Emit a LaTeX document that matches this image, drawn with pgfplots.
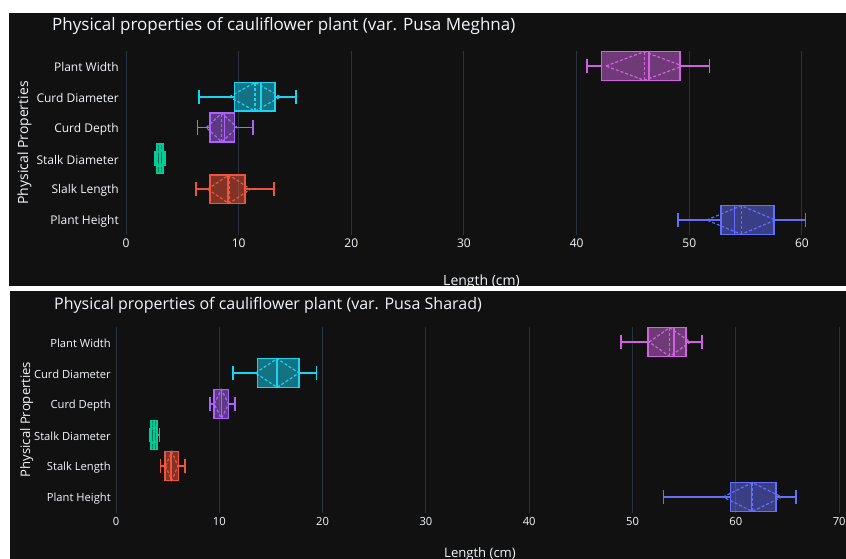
\documentclass[border=0pt]{standalone}
\usepackage{fontspec}
\setmainfont{Open Sans}
\usepackage{pgfplots}
\pgfplotsset{compat=1.18}
\usepgfplotslibrary{statistics}
\definecolor{bg}{HTML}{111111}
\definecolor{gridc}{HTML}{283442}
\definecolor{txt}{HTML}{F2F5FA}
\definecolor{cPH}{HTML}{636EFA}
\definecolor{cSL}{HTML}{EF553B}
\definecolor{cSD}{HTML}{00CC96}
\definecolor{cCP}{HTML}{AB63FA}
\definecolor{cCD}{HTML}{19D3F3}
\definecolor{cPW}{HTML}{D062E0}
\pgfplotsset{
  panel/.style={
    scale only axis,
    axis line style={draw=none},
    major tick length=0pt,
    tick style={draw=none},
    xmajorgrids=true,
    ymajorgrids=false,
    grid style={gridc, line width=1pt},
    ymin=0.5, ymax=6.5,
    ytick={1,2,3,4,5,6},
    /pgf/number format/assume math mode=true,
    clip=false,
  },
  dia/.style={line width=1.2pt, dash pattern=on 3pt off 2pt},
}
% box: color, position, lower whisker, lower quartile, median, upper quartile, upper whisker
\newcommand{\bx}[7]{%
  \addplot[draw=#1, fill=#1, fill opacity=0.5, line width=1.6pt,
    boxplot prepared={draw position=#2, lower whisker=#3, lower quartile=#4,
      median=#5, upper quartile=#6, upper whisker=#7,
      box extend=0.93, whisker extend=0.465, draw direction=x}] coordinates {};}
\begin{document}
\begin{tikzpicture}[x=1pt,y=1pt]
\useasboundingbox (0,0) rectangle (846,-559);
\fill[white] (0,0) rectangle (846,-559);
\fill[bg] (9,-13) rectangle (846,-286);
\begin{axis}[panel, at={(126pt,-235.4pt)}, anchor=south west,
  width=712pt, height=184.8pt, xmin=0, xmax=63.2, xtick={0,10,20,30,40,50,60},
  yticklabels={Plant Height, Slalk Length, Stalk Diameter, Curd Depth, Curd Diameter, Plant Width},
  yticklabel style={font=\fontsize{12}{14}\selectfont, text=txt, anchor=east, inner sep=0pt, xshift=-7pt, yshift=-1.5pt},
  xticklabel style={font=\fontsize{12}{14}\selectfont, text=txt, anchor=base, inner sep=0pt, yshift=-12.5pt}]
% Plant Width
\bx{cPW}{6}{40.9}{42.2}{46.4}{49.15}{51.8}
\addplot[cPW, dia] coordinates {(42.6,6) (46.0,6.465) (49.4,6) (46.0,5.535) (42.6,6)};
\addplot[cPW, dia] coordinates {(46.0,5.535) (46.0,6.465)};
% Curd Diameter
\bx{cCD}{5}{6.47}{9.64}{11.97}{13.24}{15.1}
\addplot[cCD, dia] coordinates {(9.18,5) (11.45,5.465) (13.72,5) (11.45,4.535) (9.18,5)};
\addplot[cCD, dia] coordinates {(11.45,4.535) (11.45,5.465)};
% Curd Depth
\bx{cCP}{4}{6.35}{7.48}{8.73}{9.64}{11.25}
\addplot[cCP, dia] coordinates {(7.13,4) (8.5,4.465) (9.87,4) (8.5,3.535) (7.13,4)};
\addplot[cCP, dia] coordinates {(8.5,3.535) (8.5,4.465)};
% Stalk Diameter
\bx{cSD}{3}{2.6}{2.75}{3.0}{3.3}{3.45}
\addplot[cSD, dia] coordinates {(2.72,3) (3.02,3.465) (3.32,3) (3.02,2.535) (2.72,3)};
\addplot[cSD, dia] coordinates {(3.02,2.535) (3.02,3.465)};
% Slalk Length
\bx{cSL}{2}{6.2}{7.45}{9.08}{10.55}{13.15}
\addplot[cSL, dia] coordinates {(7.24,2) (9.14,2.465) (11.04,2) (9.14,1.535) (7.24,2)};
\addplot[cSL, dia] coordinates {(9.14,1.535) (9.14,2.465)};
% Plant Height
\bx{cPH}{1}{49.0}{52.8}{54.0}{57.5}{60.3}
\addplot[cPH, dia] coordinates {(51.55,1) (54.6,1.465) (57.65,1) (54.6,0.535) (51.55,1)};
\addplot[cPH, dia] coordinates {(54.6,0.535) (54.6,1.465)};
\end{axis}
\node[anchor=base west, inner sep=0pt, text=txt, font=\fontsize{17}{20}\selectfont] at (52,-31) {Physical properties of cauliflower plant (var. Pusa Meghna)};
\node[anchor=base, inner sep=0pt, text=txt, font=\fontsize{14}{17}\selectfont] at (481.5,-285) {Length (cm)};
\node[anchor=base, rotate=90, inner sep=0pt, text=txt, font=\fontsize{14}{17}\selectfont] at (28,-143) {Physical Properties};
\fill[white] (0,-286) rectangle (846,-291);
\fill[bg] (10,-291) rectangle (846,-559);
\begin{axis}[panel, at={(116pt,-512.5pt)}, anchor=south west,
  width=728pt, height=186pt, xmin=0, xmax=70.47, xtick={0,10,20,30,40,50,60,70},
  yticklabels={Plant Height, Stalk Length, Stalk Diameter, Curd Depth, Curd Diameter, Plant Width},
  yticklabel style={font=\fontsize{11.2}{13}\selectfont, text=txt, anchor=east, inner sep=0pt, xshift=-5pt, yshift=-1.5pt},
  xticklabel style={font=\fontsize{11.2}{13}\selectfont, text=txt, anchor=base, inner sep=0pt, yshift=-13pt}]
% Plant Width
\bx{cPW}{6}{48.9}{51.5}{54.0}{55.2}{56.7}
\addplot[cPW, dia] coordinates {(51.6,6) (53.6,6.465) (55.6,6) (53.6,5.535) (51.6,6)};
\addplot[cPW, dia] coordinates {(53.6,5.535) (53.6,6.465)};
% Curd Diameter
\bx{cCD}{5}{11.3}{13.68}{15.6}{17.7}{19.4}
\addplot[cCD, dia] coordinates {(13.5,5) (15.6,5.465) (17.7,5) (15.6,4.535) (13.5,5)};
\addplot[cCD, dia] coordinates {(15.6,4.535) (15.6,5.465)};
% Curd Depth
\bx{cCP}{4}{9.1}{9.5}{10.2}{10.9}{11.5}
\addplot[cCP, dia] coordinates {(9.5,4) (10.2,4.465) (10.9,4) (10.2,3.535) (9.5,4)};
\addplot[cCP, dia] coordinates {(10.2,3.535) (10.2,4.465)};
% Stalk Diameter
\bx{cSD}{3}{3.3}{3.39}{3.65}{3.94}{4.2}
\addplot[cSD, dia] coordinates {(3.35,3) (3.65,3.465) (3.95,3) (3.65,2.535) (3.35,3)};
\addplot[cSD, dia] coordinates {(3.65,2.535) (3.65,3.465)};
% Stalk Length
\bx{cSL}{2}{4.3}{4.77}{5.35}{6.06}{6.7}
\addplot[cSL, dia] coordinates {(4.8,2) (5.4,2.465) (6.0,2) (5.4,1.535) (4.8,2)};
\addplot[cSL, dia] coordinates {(5.4,1.535) (5.4,2.465)};
% Plant Height
\bx{cPH}{1}{53.0}{59.5}{61.5}{63.9}{65.8}
\addplot[cPH, dia] coordinates {(58.75,1) (61.6,1.465) (64.45,1) (61.6,0.535) (58.75,1)};
\addplot[cPH, dia] coordinates {(61.6,0.535) (61.6,1.465)};
\end{axis}
\node[anchor=base west, inner sep=0pt, text=txt, font=\fontsize{16}{19}\selectfont] at (54,-309) {Physical properties of cauliflower plant (var. Pusa Sharad)};
\node[anchor=base, inner sep=0pt, text=txt, font=\fontsize{13.1}{16}\selectfont] at (480,-557) {Length (cm)};
\node[anchor=base, rotate=90, inner sep=0pt, text=txt, font=\fontsize{13.1}{16}\selectfont] at (30,-419.5) {Physical Properties};
\end{tikzpicture}
\end{document}
